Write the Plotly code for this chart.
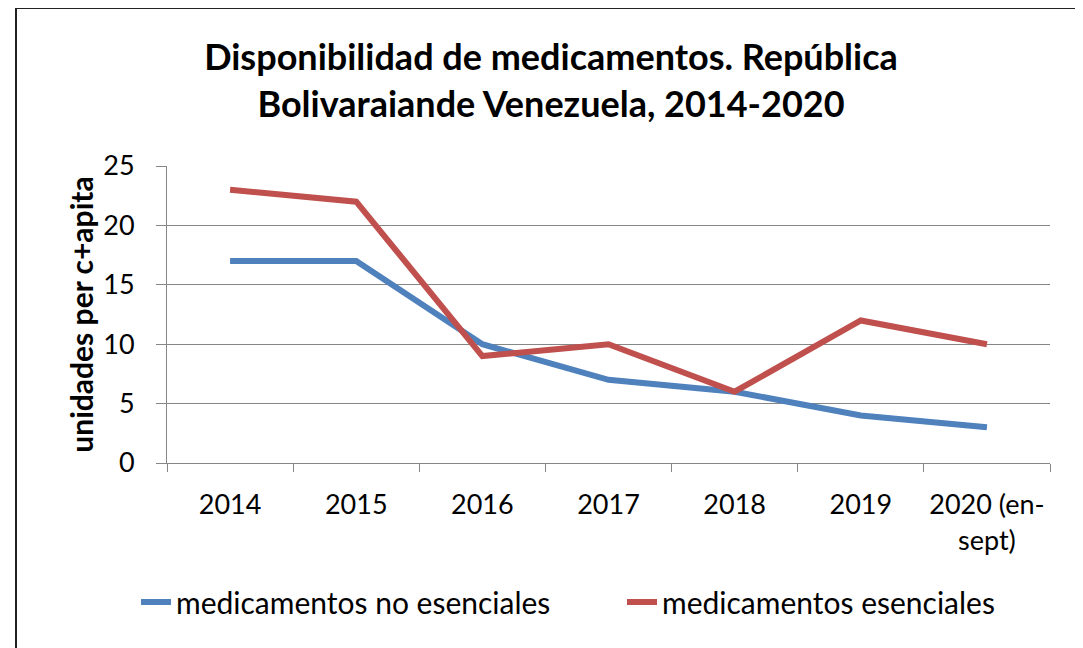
import plotly.graph_objects as go

# ── Data ────────────────────────────────────────────────────────────────────
years = ['2014', '2015', '2016', '2017', '2018', '2019', '2020 (en-<br>sept)']
no_esenciales = [17, 17, 10, 7, 6, 4, 3]
esenciales = [23, 22, 9, 10, 6, 12, 10]

BLUE = '#4F81BD'
RED = '#C0504D'
AXIS_GREY = '#868686'
FONT = 'Lato, Calibri, sans-serif'

# the page body adds an 8px offset, so positions below are in figure pixels
W, H = 1083, 648
PLOT_L, PLOT_R, PLOT_T, PLOT_B = 159, 1042, 158, 455

fig = go.Figure()
fig.add_trace(go.Scatter(
    x=years, y=no_esenciales, mode='lines',
    name='medicamentos no esenciales',
    line=dict(color=BLUE, width=6),
    legend='legend',
))
fig.add_trace(go.Scatter(
    x=years, y=esenciales, mode='lines',
    name='medicamentos esenciales',
    line=dict(color=RED, width=6),
    legend='legend2',
))

_legend_common = dict(
    orientation='h',
    xref='container', yref='container',
    xanchor='left', yanchor='middle',
    y=1 - 594 / H,
    font=dict(family=FONT, size=30, color='#000000'),
    bgcolor='rgba(0,0,0,0)',
)

fig.update_layout(
    width=W, height=H,
    paper_bgcolor='white',
    plot_bgcolor='white',
    font=dict(family=FONT, size=27, color='#000000'),
    margin=dict(l=PLOT_L, r=W - PLOT_R, t=PLOT_T, b=H - PLOT_B, autoexpand=False),
    title=dict(
        text='<b>Disponibilidad de medicamentos. República<br>Bolivaraiande Venezuela, 2014-2020</b>',
        x=543 / W, xanchor='center',
        y=1 - 62 / H, yanchor='middle',
        font=dict(family=FONT, size=36, color='#000000'),
        automargin=False,
    ),
    legend=dict(x=128 / W, **_legend_common),
    legend2=dict(x=614 / W, **_legend_common),
    showlegend=True,
)

fig.update_xaxes(
    type='category',
    range=[-0.5, 6.5],
    tickson='boundaries',
    ticks='outside', ticklen=8, tickcolor=AXIS_GREY,
    showline=True, linecolor=AXIS_GREY, linewidth=1,
    showgrid=False,
    ticklabelstandoff=18,
    automargin=False,
    tickfont=dict(family=FONT, size=27, color='#000000'),
)
fig.update_yaxes(
    range=[0, 25], dtick=5,
    ticks='outside', ticklen=10, tickcolor=AXIS_GREY,
    showline=True, linecolor=AXIS_GREY, linewidth=1,
    showgrid=True, gridcolor=AXIS_GREY, gridwidth=1,
    zeroline=False,
    ticklabelstandoff=16,
    automargin=False,
    tickfont=dict(family=FONT, size=27, color='#000000'),
    title=dict(text='<b>unidades per c+apita</b>', standoff=0,
               font=dict(family=FONT, size=30, color='#000000')),
)

# outer chart frame
pw, ph = PLOT_R - PLOT_L, PLOT_B - PLOT_T
fig.add_shape(
    type='rect', xref='paper', yref='paper',
    x0=(8 - PLOT_L) / pw, x1=(1073 - PLOT_L) / pw,
    y0=(PLOT_B - 700) / ph, y1=(PLOT_B - 0) / ph,
    line=dict(color='#222222', width=2),
    fillcolor='rgba(0,0,0,0)', layer='below',
)

fig.write_html('out.html')
